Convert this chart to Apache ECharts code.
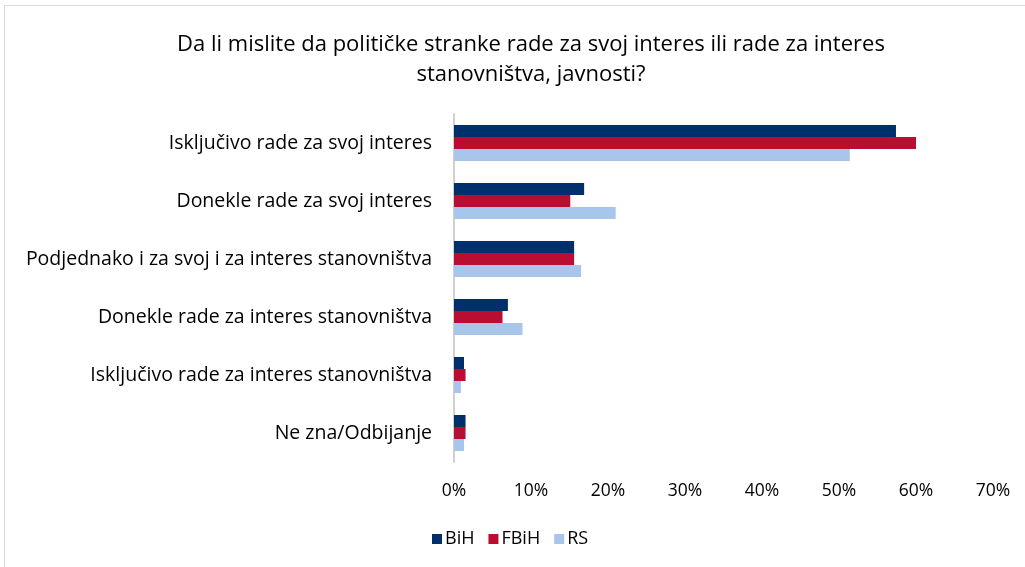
<!DOCTYPE html>
<html>
<head>
<meta charset="utf-8">
<script src="https://cdn.jsdelivr.net/npm/echarts@6/dist/echarts.min.js"></script>
<style>
  html, body { margin: 0; padding: 0; background: #fff; }
  #chart { width: 1025px; height: 567px; }
</style>
</head>
<body>
<div id="chart"></div>
<script>
  // categories, top to bottom
  var categories = [
    "Isključivo rade za svoj interes",
    "Donekle rade za svoj interes",
    "Podjednako i za svoj i za interes stanovništva",
    "Donekle rade za interes stanovništva",
    "Isključivo rade za interes stanovništva",
    "Ne zna/Odbijanje"
  ];
  var bihValues = [57.4, 16.9, 15.6, 7.0, 1.3, 1.5];
  var fbihValues = [60.0, 15.1, 15.6, 6.3, 1.5, 1.5];
  var rsValues = [51.4, 21.0, 16.5, 8.9, 0.9, 1.3];
  var seriesNames = ["BiH", "FBiH", "RS"];
  var colors = ["#00306b", "#b90e31", "#a8c6ec"];

  var font = "'Open Sans', sans-serif";
  var myChart = echarts.init(document.getElementById("chart"));

  var values = [bihValues, fbihValues, rsValues];
  var series = seriesNames.map(function (name, i) {
    return {
      name: name,
      type: "bar",
      data: values[i],
      barWidth: 12,
      barGap: "0%",
      itemStyle: { color: colors[i] }
    };
  });

  var option = {
    animation: false,
    color: colors,
    title: {
      text: "Da li mislite da političke stranke rade za svoj interes ili rade za interes\nstanovništva, javnosti?",
      left: 526,
      textAlign: "center",
      top: 25,
      textStyle: {
        fontFamily: font,
        fontSize: 22,
        fontWeight: "normal",
        color: "#000",
        lineHeight: 30
      }
    },
    legend: {
      data: seriesNames,
      bottom: 14,
      left: 427,
      itemWidth: 10,
      itemHeight: 10,
      itemGap: 14,
      icon: "rect",
      textStyle: { fontFamily: font, fontSize: 18, color: "#000", padding: [0, 0, 0, -2] }
    },
    grid: { left: 454, right: 32, top: 114, bottom: 105, containLabel: false },
    xAxis: {
      type: "value",
      min: 0,
      max: 70,
      interval: 10,
      axisLine: { show: false },
      axisTick: { show: false },
      splitLine: { show: false },
      axisLabel: {
        formatter: "{value}%",
        fontFamily: font,
        fontSize: 17.5,
        color: "#000",
        margin: 20
      }
    },
    yAxis: {
      type: "category",
      data: categories,
      inverse: true,
      axisLine: { show: true, lineStyle: { color: "#d0d0d0", width: 2 } },
      axisTick: { show: false },
      axisLabel: {
        fontFamily: font,
        fontSize: 19.5,
        color: "#000",
        margin: 22
      }
    },
    graphic: [{
      type: "rect",
      shape: { x: 4.5, y: 5.5, width: 1200, height: 1000 },
      style: { fill: "none", stroke: "#d9d9d9", lineWidth: 1 },
      silent: true
    }],
    series: series
  };

  myChart.setOption(option);
</script>
</body>
</html>
